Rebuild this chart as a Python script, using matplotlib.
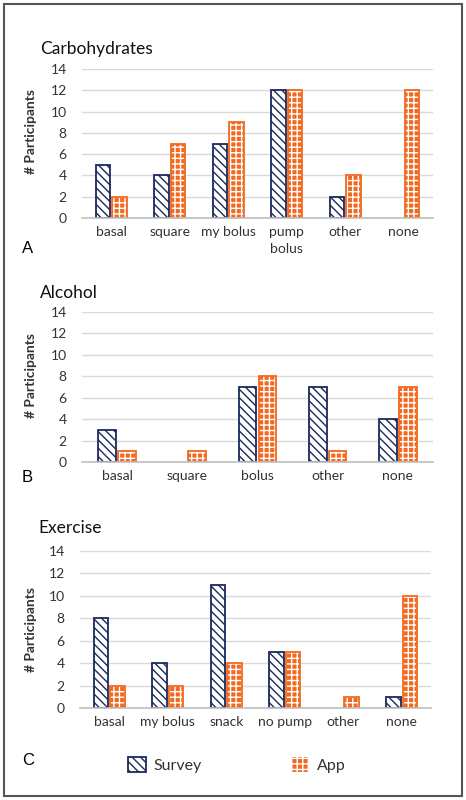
import numpy as np
import matplotlib
matplotlib.use("Agg")
import matplotlib.pyplot as plt
from matplotlib.patches import Rectangle, Patch

# data
carb_cats = ["basal", "square", "my bolus", "pump\nbolus", "other", "none"]
carb_survey = [5, 4, 7, 12, 2, 0]
carb_app = [2, 7, 9, 12, 4, 12]

alc_cats = ["basal", "square", "bolus", "other", "none"]
alc_survey = [3, 0, 7, 7, 4]
alc_app = [1, 1, 8, 1, 7]

ex_cats = ["basal", "my bolus", "snack", "no pump", "other", "none"]
ex_survey = [8, 4, 11, 5, 0, 1]
ex_app = [2, 2, 4, 5, 1, 10]

yticks = [0, 2, 4, 6, 8, 10, 12, 14]

NAVY = "#1b2a5c"
ORANGE = "#f26a21"
GRID = "#d9d9d9"

plt.rcParams["font.family"] = ["Lato", "DejaVu Sans"]
plt.rcParams["hatch.linewidth"] = 1.0

W, H = 466, 800
fig = plt.figure(figsize=(W / 100, H / 100), dpi=100)


def fx(px):
    return px / W


def fy(py):
    return 1 - py / H


def panel(rect, cats, survey, app, title, title_xy, letter, letter_xy, ylab_xy):
    left, top, right, bottom = rect
    ax = fig.add_axes([fx(left), fy(bottom), fx(right - left), (bottom - top) / H])
    x = np.arange(len(cats))
    w = 0.25
    off = 0.14
    lw_s = [1.3 if v > 0 else 0 for v in survey]
    lw_a = [1.3 if v > 0 else 0 for v in app]
    ax.bar(x - off, survey, w, facecolor="white", edgecolor=NAVY,
           hatch="\\\\\\\\", linewidth=lw_s, zorder=3)
    # checkered look: orange bar with white grid hatch, then orange outline
    ax.bar(x + off, app, w, facecolor=ORANGE, edgecolor="white",
           hatch="+++", linewidth=0, zorder=3)
    ax.bar(x + off, app, w, fill=False, edgecolor=ORANGE,
           linewidth=lw_a, zorder=4)
    ax.set_xlim(-0.5, len(cats) - 0.5)
    ax.set_ylim(0, 14)
    ax.set_yticks(yticks)
    ax.set_xticks(x)
    ax.set_xticklabels(cats, fontsize=10, color="#333333", linespacing=1.5)
    ax.tick_params(axis="y", length=0, pad=11, labelsize=10, labelcolor="#333333")
    ax.tick_params(axis="x", length=0, pad=6)
    ax.grid(axis="y", color=GRID, linewidth=1, zorder=0)
    for s in ["left", "right", "top"]:
        ax.spines[s].set_visible(False)
    ax.spines["bottom"].set_color("#bfbfbf")
    ax.spines["bottom"].set_linewidth(1.2)
    ax.spines["bottom"].set_zorder(5)
    fig.text(fx(title_xy[0]), fy(title_xy[1]), title, fontsize=12.5,
             color="#111111", va="baseline", ha="left")
    fig.text(fx(letter_xy[0]), fy(letter_xy[1]), letter, fontsize=12,
             family="Liberation Sans", va="baseline", ha="left")
    fig.text(fx(ylab_xy[0]), fy(ylab_xy[1]), "# Participants", fontsize=10,
             fontweight="bold", color="#333333", rotation=90,
             ha="center", va="center")
    return ax


panel((82, 69, 433, 218), carb_cats, carb_survey, carb_app,
      "Carbohydrates", (40, 54), "A", (22, 253), (31, 131))
panel((82, 312, 433, 462), alc_cats, alc_survey, alc_app,
      "Alcohol", (40, 298), "B", (22, 482), (31, 375))
panel((80, 551, 431, 708), ex_cats, ex_survey, ex_app,
      "Exercise", (38, 533), "C", (22, 765), (31, 629))

# legend
survey_h = Patch(facecolor="white", edgecolor=NAVY, hatch="\\\\\\\\", linewidth=1.3)
app_h = Patch(facecolor=ORANGE, edgecolor="white", hatch="+++", linewidth=0)
leg = fig.legend([survey_h, app_h], ["Survey", "App"], loc="center left", ncol=2,
                 bbox_to_anchor=(fx(114), fy(765)), frameon=False,
                 fontsize=11.5, handlelength=1.1, handleheight=1.1,
                 handletextpad=0.5, columnspacing=5.6)
for t in leg.get_texts():
    t.set_color("#333333")

# outer frame
fig.patches.append(Rectangle((fx(4), fy(796)), fx(458), 792 / H,
                             transform=fig.transFigure, fill=False,
                             edgecolor="#555555", linewidth=1.5))

fig.savefig("out.png", dpi=100)
